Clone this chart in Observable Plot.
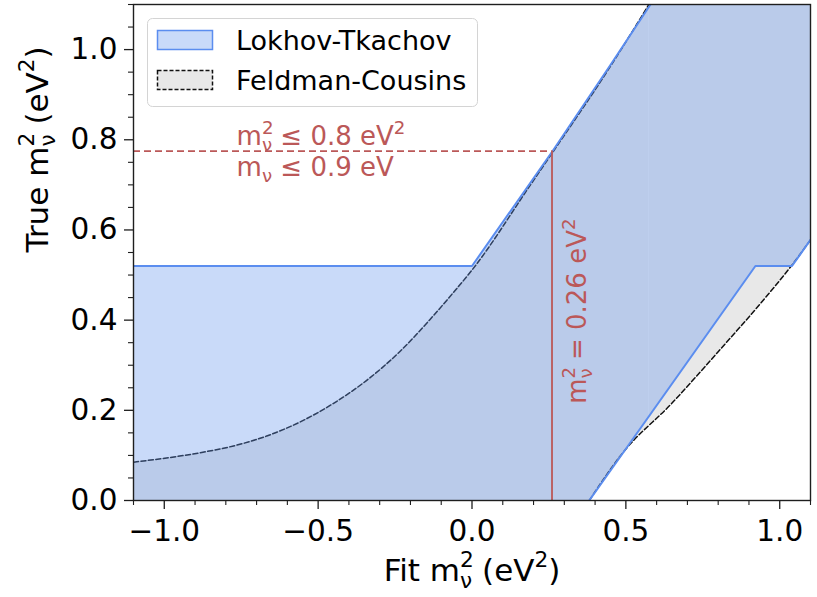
<!DOCTYPE html>
<html>
<head>
<meta charset="utf-8">
<script src="https://cdn.jsdelivr.net/npm/d3@7"></script>
<script src="https://cdn.jsdelivr.net/npm/@observablehq/plot@0.6"></script>
<style>
  html, body { margin: 0; padding: 0; background: #fff; }
  #chart { position: relative; width: 817px; height: 597px; font-family: "DejaVu Sans", sans-serif; }
  #legend { position: absolute; left: 147px; top: 18px; overflow: visible; }
</style>
</head>
<body>
<div id="chart"></div>
<script>
// Confidence belts: fitted vs. true neutrino mass squared (eV^2)

// Lokhov-Tkachov belt boundaries
const ltUpperX = [-1.1, 0.0, 0.262, 0.452, 0.58];
const ltUpperY = [0.52, 0.52, 0.775, 0.968, 1.1];
const ltLowerX = [0.381, 0.921, 1.04, 1.1];
const ltLowerY = [0.0, 0.52, 0.52, 0.578];

// Feldman-Cousins belt boundaries
const fcUpperX = [-1.1, -0.883, -0.775, -0.667, -0.559, -0.451, -0.343, -0.235, -0.137, -0.062, 0.0, 0.19, 0.26, 0.45, 0.575];
const fcUpperY = [0.085, 0.106, 0.121, 0.143, 0.174, 0.215, 0.266, 0.330, 0.401, 0.460, 0.511, 0.70, 0.77, 0.963, 1.1];
const fcLowerX = [0.381, 0.489, 0.65, 0.80, 0.945, 1.035, 1.1];
const fcLowerY = [0.0, 0.105, 0.216, 0.33, 0.443, 0.518, 0.578];

// Measured value and the resulting upper bound
const fitValue = 0.26;
const boundValue = 0.775;
const boundLabels = ["m^{2}_{ν} ≤ 0.8 eV^{2}", "m_{ν} ≤ 0.9 eV"];
const fitLabel = "m^{2}_{ν} = 0.26 eV^{2}";

// Axes
const xDomain = [-1.1, 1.1];
const yDomain = [0, 1.1];
const xMajor = [-1.0, -0.5, 0.0, 0.5, 1.0];
const xMinor = [-1.1, -0.9, -0.8, -0.7, -0.6, -0.4, -0.3, -0.2, -0.1, 0.1, 0.2, 0.3, 0.4, 0.6, 0.7, 0.8, 0.9, 1.1];
const yMajor = [0.0, 0.2, 0.4, 0.6, 0.8, 1.0];
const yMinor = [0.05, 0.1, 0.15, 0.25, 0.3, 0.35, 0.45, 0.5, 0.55, 0.65, 0.7, 0.75, 0.85, 0.9, 0.95, 1.05, 1.1];
const xLabel = "Fit m^{2}_{ν} (eV^{2})";
const yLabel = "True m^{2}_{ν} (eV^{2})";

const seriesNames = ["Lokhov-Tkachov", "Feldman-Cousins"];

// Styling
const ltFill = "cornflowerblue";
const ltFillOpacity = 0.35;
const ltStroke = "#5b8def";
const fcFill = "#e8e8e8";
const fcStroke = "#111";
const red = "#bb5858";
const ink = "#1e1e1e";

const pts = (xs, ys) => xs.map((x, i) => ({x, y: ys[i]}));
const ltUpper = pts(ltUpperX, ltUpperY);
const ltLower = pts(ltLowerX, ltLowerY);
const fcUpper = pts(fcUpperX, fcUpperY);
const fcLower = pts(fcLowerX, fcLowerY);

// Lokhov-Tkachov outline: upper edge, top-right corner, lower edge back, bottom-left corner
const ltBand = [...ltUpper, {x: xDomain[1], y: yDomain[1]}, ...ltLower.slice().reverse(), {x: xDomain[0], y: yDomain[0]}];

const plot = Plot.plot({
  width: 817,
  height: 597,
  marginLeft: 133,
  marginRight: 7,
  marginTop: 4,
  marginBottom: 97,
  style: {fontFamily: "DejaVu Sans, sans-serif", fontSize: "28px", background: "#fff", color: "#000"},
  x: {domain: xDomain},
  y: {domain: yDomain},
  marks: [
    // Feldman-Cousins belt: everything under the upper edge, then the part under the lower edge cut away
    Plot.areaY(fcUpper, {x: "x", y1: yDomain[0], y2: "y", curve: "monotone-x", fill: fcFill, clip: true}),
    Plot.rect([fcUpperX[fcUpperX.length - 1]], {x1: d => d, x2: xDomain[1], y1: yDomain[0], y2: yDomain[1], fill: fcFill, clip: true}),
    Plot.areaY(fcLower, {x: "x", y1: yDomain[0], y2: "y", curve: "monotone-x", fill: "#fff", clip: true}),
    Plot.line(fcUpper, {x: "x", y: "y", curve: "monotone-x", stroke: fcStroke, strokeWidth: 1.5, strokeDasharray: "5,2.5", clip: true}),
    Plot.line(fcLower, {x: "x", y: "y", curve: "monotone-x", stroke: fcStroke, strokeWidth: 1.5, strokeDasharray: "5,2.5", clip: true}),
    // Lokhov-Tkachov belt
    Plot.line(ltBand, {x: "x", y: "y", fill: ltFill, fillOpacity: ltFillOpacity, stroke: "none", clip: true}),
    Plot.line(ltUpper, {x: "x", y: "y", stroke: ltStroke, strokeWidth: 2, clip: true}),
    Plot.line(ltLower, {x: "x", y: "y", stroke: ltStroke, strokeWidth: 2, clip: true}),
    // Measured value and upper bound
    Plot.ruleY([boundValue], {x1: xDomain[0], x2: fitValue, stroke: red, strokeWidth: 1.8, strokeDasharray: "7,4"}),
    Plot.ruleX([fitValue], {y1: yDomain[0], y2: boundValue, stroke: red, strokeWidth: 1.8}),
    Plot.text([boundLabels[0]], {x: -0.765, y: boundValue, text: d => d, textAnchor: "start", lineAnchor: "bottom", dy: -6, fill: red, fontSize: 26}),
    Plot.text([boundLabels[1]], {x: -0.765, y: boundValue, text: d => d, textAnchor: "start", lineAnchor: "bottom", dy: 25, fill: red, fontSize: 26}),
    Plot.text([fitLabel], {x: fitValue, y: 0.42, text: d => d, rotate: -90, lineAnchor: "bottom", dx: 34, fill: red, fontSize: 26}),
    // Frame and axes
    Plot.frame({stroke: ink, strokeWidth: 1.4}),
    Plot.axisX({ticks: xMajor, tickSize: 9, tickPadding: 11, tickFormat: d3.format(".1f"), fontSize: 29.5, stroke: ink, strokeWidth: 1.3, label: null}),
    Plot.axisX({ticks: xMinor, tickSize: 5, tickFormat: () => "", stroke: ink, strokeWidth: 1.1, label: null}),
    Plot.axisY({ticks: yMajor, tickSize: 9, tickPadding: 7, tickFormat: d3.format(".1f"), fontSize: 29.5, stroke: ink, strokeWidth: 1.3, label: null}),
    Plot.axisY({ticks: yMinor, tickSize: 5, tickFormat: () => "", stroke: ink, strokeWidth: 1.1, label: null}),
    Plot.text([xLabel], {frameAnchor: "bottom", text: d => d, lineAnchor: "bottom", dy: 80, fontSize: 31}),
    Plot.text([yLabel], {frameAnchor: "left", text: d => d, rotate: -90, lineAnchor: "bottom", dx: -86, fontSize: 31})
  ]
});

const chart = document.getElementById("chart");
chart.append(plot);

// Typeset ^{..} superscripts and _{..} subscripts (stacked when both follow a symbol)
function mathify(el) {
  const src = el.textContent;
  if (!/[\^_]\{/.test(src)) return;
  const fs = parseFloat(getComputedStyle(el).fontSize);
  const k = 0.7, up = -0.42 * fs, down = 0.24 * fs;
  el.textContent = "";
  let cur = 0;
  const span = (txt, size, target, dx) => {
    const t = document.createElementNS("http://www.w3.org/2000/svg", "tspan");
    if (size) t.setAttribute("font-size", size);
    const d = target - cur;
    if (d) t.setAttribute("dy", d);
    if (dx) t.setAttribute("dx", dx);
    t.textContent = txt;
    el.appendChild(t);
    cur = target;
    return t;
  };
  const re = /\^\{([^}]*)\}(?:_\{([^}]*)\})?|_\{([^}]*)\}/g;
  let m, last = 0;
  while ((m = re.exec(src))) {
    if (m.index > last) span(src.slice(last, m.index), null, 0);
    if (m[1] != null) {
      const sup = span(m[1], k * fs, up);
      if (m[2] != null) span(m[2], k * fs, down, -sup.getComputedTextLength());
    } else {
      span(m[3], k * fs, down);
    }
    last = re.lastIndex;
  }
  if (last < src.length) span(src.slice(last), null, 0);
}
plot.querySelectorAll("text").forEach(mathify);

// Legend
const legend = d3.select(chart).append("svg")
  .attr("id", "legend")
  .attr("width", 332)
  .attr("height", 90)
  .style("font-family", "DejaVu Sans, sans-serif");
legend.append("rect")
  .attr("x", 0.5).attr("y", 0.5).attr("width", 330).attr("height", 88).attr("rx", 5)
  .attr("fill", "#fff").attr("fill-opacity", 0.8).attr("stroke", "#d4d4d4").attr("stroke-width", 1);
const swatches = [
  {fill: ltFill, fillOpacity: ltFillOpacity, stroke: ltStroke, dash: null},
  {fill: fcFill, fillOpacity: 1, stroke: fcStroke, dash: "4,2"}
];
seriesNames.forEach((name, i) => {
  const s = swatches[i];
  legend.append("rect")
    .attr("x", 10.5).attr("y", 12.5 + 40 * i).attr("width", 55).attr("height", 19)
    .attr("fill", s.fill).attr("fill-opacity", s.fillOpacity)
    .attr("stroke", s.stroke).attr("stroke-width", 1.5)
    .attr("stroke-dasharray", s.dash);
  legend.append("text")
    .attr("x", 89).attr("y", 32 + 40 * i)
    .attr("font-size", 27).attr("fill", "#000")
    .text(name);
});
</script>
</body>
</html>
